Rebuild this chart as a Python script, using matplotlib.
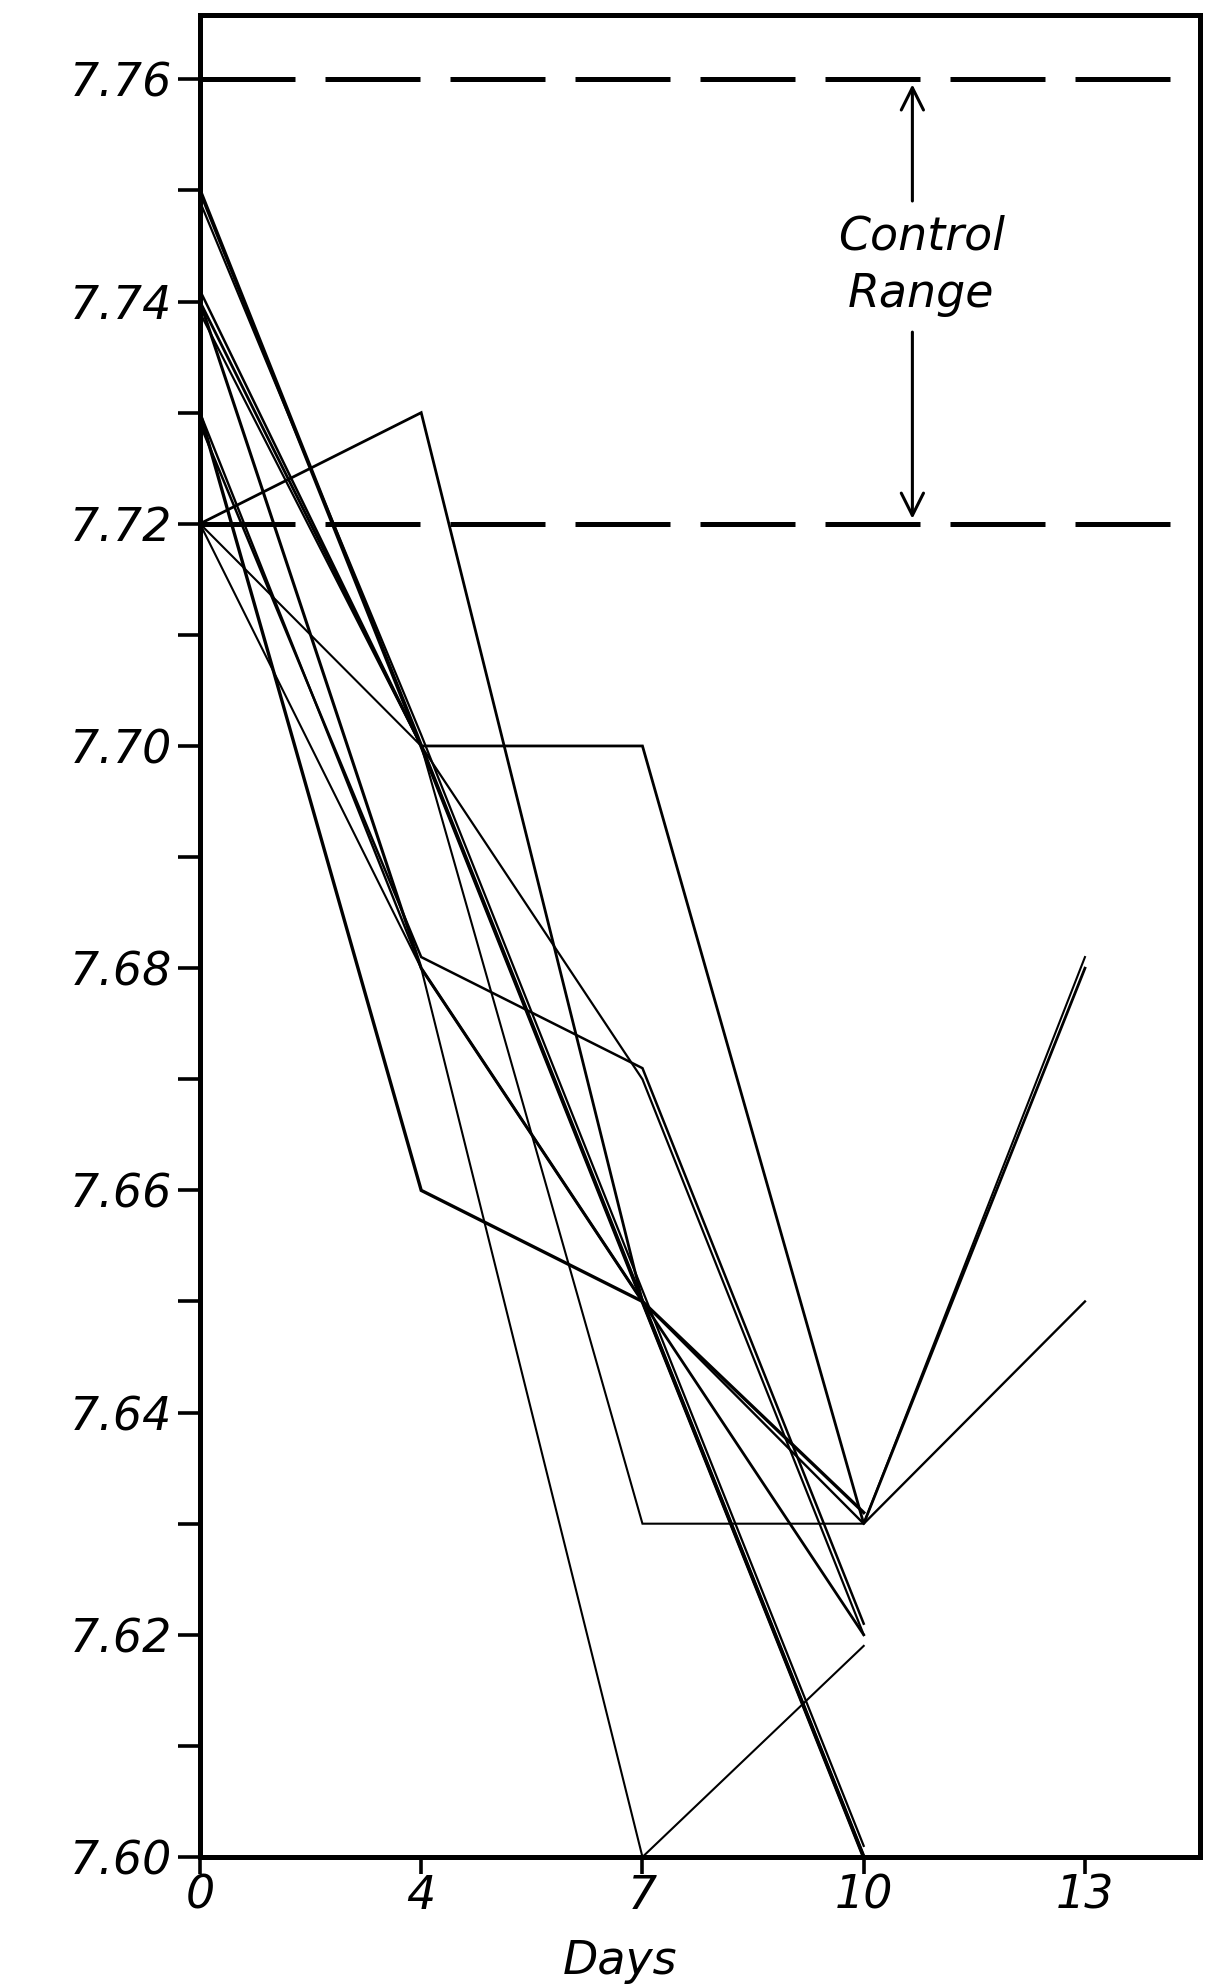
import numpy as np
import matplotlib.pyplot as plt

# sampling days and measured pH for each culture (nan = not measured)
days = [0, 4, 7, 10, 13]
series = [
    [7.750, 7.700, 7.650, 7.600, np.nan],
    [7.749, 7.701, 7.651, 7.601, np.nan],
    [7.741, 7.700, 7.650, 7.600, np.nan],
    [7.740, 7.700, 7.700, 7.630, 7.680],
    [7.739, 7.700, 7.670, 7.620, np.nan],
    [7.720, 7.700, 7.630, 7.630, 7.681],
    [7.740, 7.680, 7.650, 7.600, np.nan],
    [7.730, 7.680, 7.650, 7.630, 7.650],
    [7.729, 7.681, 7.671, 7.621, np.nan],
    [7.720, 7.680, 7.600, 7.619, np.nan],
    [7.730, 7.660, 7.650, 7.631, np.nan],
    [7.720, 7.730, 7.650, 7.620, np.nan],
]
widths = [2.8, 1.6, 1.8, 2.0, 1.6, 1.5, 2.2, 1.7, 1.8, 1.5, 2.4, 2.0]
control_range = [7.72, 7.76]
yticks = [7.60, 7.62, 7.64, 7.66, 7.68, 7.70, 7.72, 7.74, 7.76]

font = {'family': 'DejaVu Sans', 'style': 'oblique', 'size': 33}

fig = plt.figure(figsize=(12.26, 19.88), dpi=100)
ax = fig.add_axes([0.1631, 0.0659, 0.8157, 0.9266])

pos = np.arange(len(days))
for vals, lw in zip(series, widths):
    ax.plot(pos, vals, color='black', linewidth=lw, clip_on=False,
            solid_joinstyle='miter')

for level in control_range:
    ax.axhline(level, color='black', linewidth=3.6, dashes=(19, 6))

# control range arrows and label
ax.annotate('', xy=(3.22, 7.7598), xytext=(3.22, 7.7488),
            arrowprops=dict(arrowstyle='->', color='black', lw=2.2,
                            mutation_scale=40))
ax.annotate('', xy=(3.22, 7.7202), xytext=(3.22, 7.7375),
            arrowprops=dict(arrowstyle='->', color='black', lw=2.2,
                            mutation_scale=40))
ax.text(3.26, 7.7432, 'Control\nRange', ha='center', va='center',
        linespacing=1.35, fontdict=font)

ax.set_xlim(0, 4.52)
ax.set_ylim(7.60, 7.7658)
ax.set_xticks(pos)
ax.set_xticklabels([str(d) for d in days], fontdict=font)
ax.set_yticks(yticks)
ax.set_yticks(np.arange(7.61, 7.76, 0.02), minor=True)
ax.set_yticklabels(['%.2f' % t for t in yticks], fontdict=font)

ax.tick_params(axis='y', which='both', direction='out', length=16, width=2.6, pad=4)
ax.tick_params(axis='x', which='major', direction='out', length=12, width=2.6, pad=0)
for sp in ax.spines.values():
    sp.set_linewidth(3.6)

ax.set_xlabel('Days', fontdict=font)
ax.xaxis.set_label_coords(0.42, -0.0565)
ax.xaxis.label.set_va('center')

fig.savefig('out.png', dpi=100, facecolor='white')
